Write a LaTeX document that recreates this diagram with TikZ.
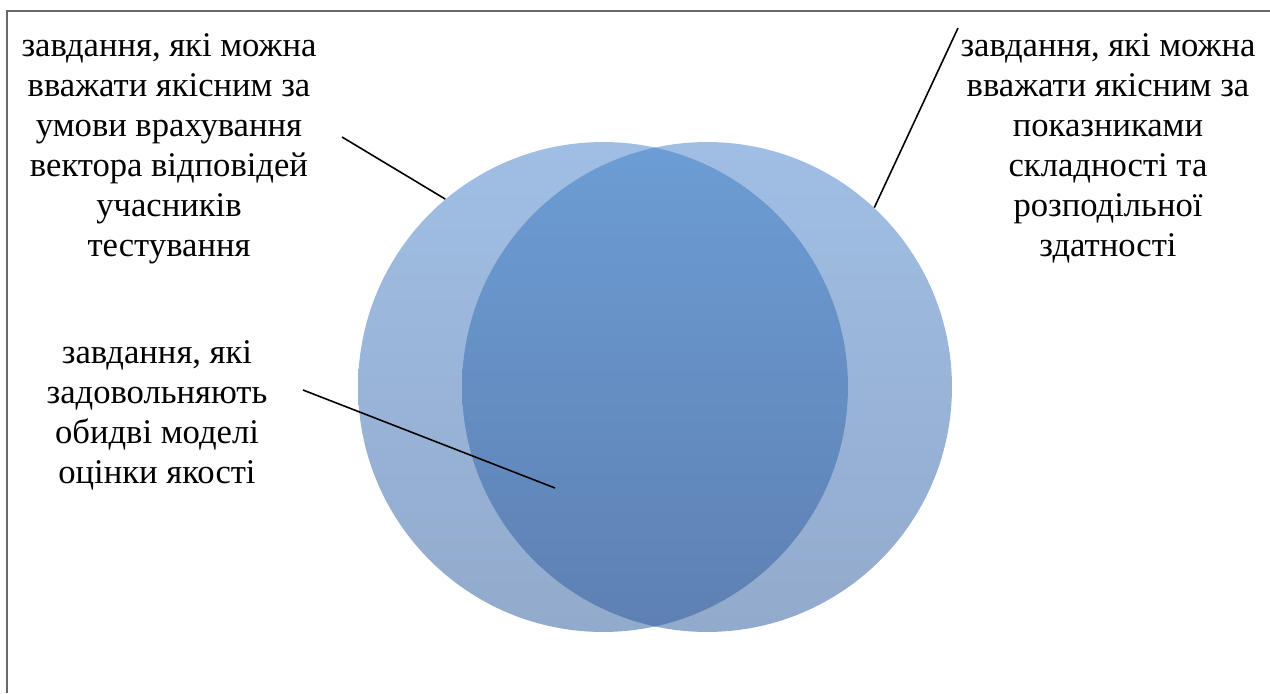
\documentclass[tikz,border=0pt]{standalone}
\usepackage{fontspec}
\setmainfont{Liberation Serif}
\newfontfamily\labelfont{Liberation Serif}
\usepackage{xcolor}
\usetikzlibrary{positioning}
\definecolor{setlt}{RGB}{160,190,228}
\definecolor{setlb}{RGB}{146,170,204}
\definecolor{bothtop}{RGB}{108,157,212}
\definecolor{bothbot}{RGB}{94,128,178}
\definecolor{framegray}{RGB}{105,105,105}

\begin{document}
\begin{tikzpicture}[
  x=0.02cm, y=-0.02cm,
  lbl/.style={align=center, inner sep=0pt, anchor=north,
              font=\labelfont\fontsize{19.7}{22.8}\selectfont},
  circ/.style={circle, minimum size=9.8cm, inner sep=0pt,
               top color=setlt, bottom color=setlb},
  lead/.style={line width=0.9pt, black}
]
\useasboundingbox (0,0) rectangle (1270,693);
\draw[framegray, line width=1pt] (7,693) -- (7,11) -- (1270,11);

\node[circ] (lset) at (603,387) {};
\node[circ] (rset) at (707,387) {};
\begin{scope}
  \clip (lset.center) circle (4.9cm);
  \shade[top color=bothtop, bottom color=bothbot] (rset.center) circle (4.9cm);
\end{scope}

\node[lbl] (vecq) at (169,33) {завдання, які можна\\вважати якісним за\\умови врахування\\вектора відповідей\\учасників\\тестування};
\node[lbl] (indq) at (1108,33) {завдання, які можна\\вважати якісним за\\показниками\\складності та\\розподільної\\здатності};
\node[lbl] (both) at (157,340) {завдання, які\\задовольняють\\обидві моделі\\оцінки якості};

\coordinate (vecq-tip) at (342,137);
\coordinate (indq-tip) at (958,28);
\coordinate (both-tip) at (303,390);
\coordinate (both-end) at (555,488);

\draw[lead] (vecq-tip) -- (lset.130);
\draw[lead] (indq-tip) -- (rset.47);
\draw[lead] (both-tip) -- (both-end);
\end{tikzpicture}
\end{document}
